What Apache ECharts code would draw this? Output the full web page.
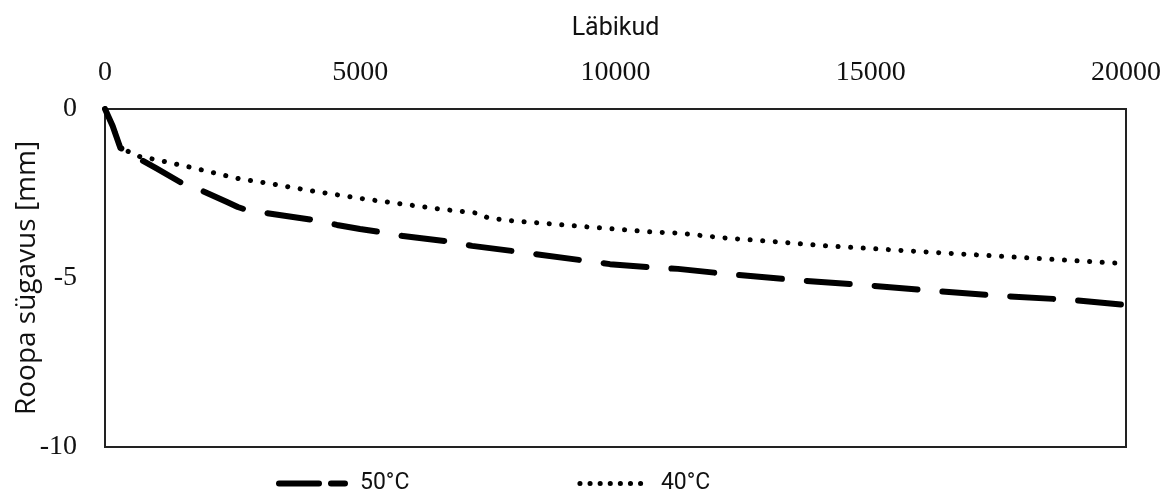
<!DOCTYPE html>
<html>
<head>
<meta charset="utf-8">
<script src="https://cdn.jsdelivr.net/npm/echarts@6/dist/echarts.min.js"></script>
<style>
  html, body { margin: 0; padding: 0; background: #fff; }
  #chart { width: 1168px; height: 500px; }
</style>
</head>
<body>
<div id="chart"></div>
<script>
// Läbikud (passes) and rut depth [mm]
let passes50 = [0, 150, 300, 700, 1000, 1469, 1920, 2390, 2600, 2800, 3173, 4075, 4544, 4995, 5387, 5838, 6797, 7189, 8129, 9462, 9892, 10813, 11225, 12184, 13516, 14888, 16220, 17571, 18943, 20000];
let depth50  = [0, -0.5, -1.15, -1.5, -1.75, -2.16, -2.43, -2.75, -2.9, -3.0, -3.08, -3.28, -3.43, -3.55, -3.64, -3.76, -3.93, -4.05, -4.23, -4.5, -4.59, -4.7, -4.73, -4.88, -5.06, -5.21, -5.38, -5.53, -5.65, -5.8];

let passes40 = [0, 150, 300, 700, 940, 1665, 2644, 3173, 4075, 5074, 5818, 6562, 7287, 7503, 7992, 8756, 9462, 10226, 10715, 11205, 12184, 13164, 14143, 15123, 16103, 19824, 20000];
let depth40  = [0, -0.5, -1.15, -1.42, -1.48, -1.72, -2.07, -2.19, -2.43, -2.66, -2.81, -2.96, -3.08, -3.22, -3.31, -3.4, -3.49, -3.58, -3.64, -3.67, -3.82, -3.93, -4.05, -4.14, -4.23, -4.56, -4.57];

let seriesNames = ['50°C', '40°C'];

function pairs(xs, ys) {
    return xs.map((x, i) => [x, ys[i]]);
}

let dash50 = { color: '#000', width: 6, type: [43, 25], cap: 'round', join: 'round' };
let dot40 = { color: '#000', width: 5, type: [0.1, 10], cap: 'round', join: 'round' };

let chart = echarts.init(document.getElementById('chart'));

let tickFont = {
    fontFamily: 'Liberation Serif',
    fontSize: 28,
    color: '#111',
    formatter: (v) => String(v)
};

chart.setOption({
    animation: false,
    grid: {
        left: 105,
        right: 42,
        top: 109,
        bottom: 53,
        outerBoundsMode: 'none',
        containLabel: false,
        show: true,
        borderColor: '#222',
        borderWidth: 2
    },
    legend: {
        left: 271,
        bottom: 0,
        itemWidth: 66,
        itemHeight: 14,
        itemGap: 168,
        data: [
            { name: seriesNames[0], itemStyle: { opacity: 0 }, lineStyle: Object.assign({}, dash50, { type: [40, 12] }) },
            { name: seriesNames[1], itemStyle: { opacity: 0 }, lineStyle: Object.assign({}, dot40) }
        ],
        textStyle: {
            fontFamily: 'Roboto',
            fontSize: 23,
            color: '#111',
            padding: [0, 0, 0, 10]
        }
    },
    xAxis: {
        type: 'value',
        position: 'top',
        min: 0,
        max: 20000,
        interval: 5000,
        name: 'Läbikud',
        nameLocation: 'middle',
        nameGap: 68,
        nameMoveOverlap: false,
        nameTextStyle: {
            fontFamily: 'Roboto',
            fontSize: 25,
            color: '#111'
        },
        axisLine: { show: false },
        axisTick: { show: false },
        splitLine: { show: false },
        axisLabel: Object.assign({ margin: 22 }, tickFont)
    },
    yAxis: {
        type: 'value',
        min: -10,
        max: 0,
        interval: 5,
        name: 'Roopa sügavus [mm]',
        nameLocation: 'middle',
        nameGap: 64,
        nameMoveOverlap: false,
        nameTextStyle: {
            fontFamily: 'Open Sans',
            fontSize: 28,
            color: '#111'
        },
        axisLine: { show: false },
        axisTick: { show: false },
        splitLine: { show: false },
        axisLabel: Object.assign({ margin: 28 }, tickFont)
    },
    series: [
        {
            name: seriesNames[0],
            type: 'line',
            symbol: 'none',
            data: pairs(passes50, depth50),
            lineStyle: dash50,
            itemStyle: { color: '#000' }
        },
        {
            name: seriesNames[1],
            type: 'line',
            symbol: 'none',
            data: pairs(passes40, depth40),
            lineStyle: Object.assign({}, dot40, { type: [0.1, 12.5] }),
            itemStyle: { color: '#000' }
        }
    ]
});
</script>
</body>
</html>
